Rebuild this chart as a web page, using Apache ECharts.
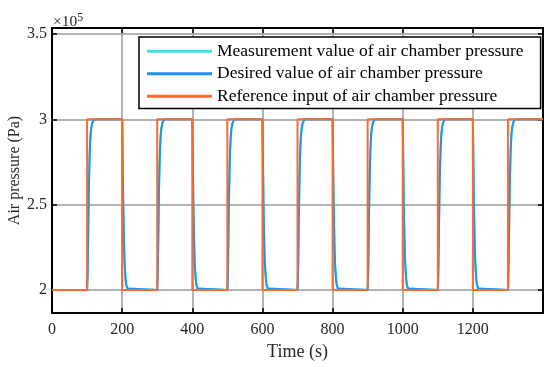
<!DOCTYPE html>
<html><head><meta charset="utf-8">
<script src="https://cdn.jsdelivr.net/npm/echarts@6/dist/echarts.min.js"></script>
<style>html,body{margin:0;padding:0;background:#fff}#c{width:550px;height:367px}</style>
</head><body><div id="c"></div>
<script>
// ---- data ----
var lowPa = 200000;            // low level of the square wave (Pa)
var highPa = 300000;           // high level (Pa)
var switchTimes = [100, 200, 300, 400, 500, 600, 700, 800, 900, 1000, 1100, 1200, 1300]; // s
var endTime = 1400;            // s
// response of the desired value: time after switch (s) and fraction of the step reached
var respOffsets = [0, 1, 2, 3, 4, 5, 6, 7, 8, 10, 12, 15, 20];
var riseFraction = [0, 0.05, 0.15, 0.3, 0.45, 0.58, 0.68, 0.76, 0.83, 0.91, 0.95, 0.98, 1];
var fallFraction = [0, 0.15, 0.32, 0.48, 0.6, 0.7, 0.78, 0.84, 0.88, 0.94, 0.97, 0.99, 1];
var yTicks = [200000, 250000, 300000, 350000];
var seriesNames = ['Measurement value of air chamber pressure', 'Desired value of air chamber pressure', 'Reference input of air chamber pressure'];

// build reference (square wave)
var refData = [[0, lowPa]];
var level = lowPa;
switchTimes.forEach(function (t) {
  refData.push([t, level]);
  level = (level === lowPa) ? highPa : lowPa;
  refData.push([t, level]);
});
refData.push([endTime, level]);

// build desired value from the read responses at each switch
var desData = [[0, lowPa]];
var prev = lowPa;
switchTimes.forEach(function (t) {
  var next = (prev === lowPa) ? highPa : lowPa;
  var frac = (next > prev) ? riseFraction : fallFraction;
  desData.push([t, prev]);
  for (var i = 1; i < respOffsets.length; i++) {
    desData.push([t + respOffsets[i], prev + (next - prev) * frac[i]]);
  }
  prev = next;
});
desData.push([endTime, prev]);
var measData = desData.map(function (p) { return [p[0], p[1]]; });

var font = 'Liberation Serif, Times New Roman, serif';
var chart = echarts.init(document.getElementById('c'));
var gridLine = { show: true, lineStyle: { color: '#9a9a9a', width: 1.5 } };
chart.setOption({
  animation: false,
  backgroundColor: '#fff',
  grid: { left: 52, right: 7, top: 28, bottom: 54, containLabel: false, outerBoundsMode: 'none',
    show: true, borderColor: '#000', borderWidth: 2, backgroundColor: '#fff' },
  legend: {
    orient: 'vertical', left: 139, top: 37,
    backgroundColor: '#fff', borderColor: '#000', borderWidth: 1.5,
    padding: [5, 17, 3, 8], itemGap: 4, itemWidth: 65, itemHeight: 3, icon: 'rect',
    textStyle: { fontFamily: font, fontSize: 17.5, color: '#000', lineHeight: 18.5 },
    data: seriesNames
  },
  xAxis: [{
    type: 'value', min: 0, max: endTime, interval: 200,
    name: 'Time (s)', nameLocation: 'middle', nameGap: 30, nameMoveOverlap: false,
    nameTextStyle: { fontFamily: font, fontSize: 18, color: '#262626' },
    axisLine: { show: true, onZero: false, lineStyle: { color: '#000', width: 2 } },
    axisTick: { show: true, inside: true, length: 5, lineStyle: { color: '#000', width: 1.5 } },
    axisLabel: { fontFamily: font, fontSize: 16, color: '#262626', margin: 9, showMaxLabel: false,
      formatter: function (v) { return v === endTime ? '' : String(v); } },
    splitLine: gridLine
  }, {
    type: 'value', min: 0, max: endTime, interval: 200, position: 'top',
    axisLine: { show: true, onZero: false, lineStyle: { color: '#000', width: 2 } },
    axisTick: { show: true, inside: true, length: 5, lineStyle: { color: '#000', width: 1.5 } },
    axisLabel: { show: false }, splitLine: { show: false }
  }],
  yAxis: [{
    type: 'value', min: 186600, max: 353500,
    name: 'Air pressure (Pa)', nameLocation: 'middle', nameGap: 29, nameRotate: 90, nameMoveOverlap: false,
    nameTextStyle: { fontFamily: font, fontSize: 16, color: '#262626' },
    axisLine: { show: true, onZero: false, lineStyle: { color: '#000', width: 2 } },
    axisTick: { show: true, inside: true, length: 5, customValues: yTicks, lineStyle: { color: '#000', width: 1.5 } },
    axisLabel: { fontFamily: font, fontSize: 16, color: '#262626', margin: 5, customValues: yTicks,
      formatter: function (v) { return String(Math.round(v / 1e4) / 10); } },
    splitLine: gridLine
  }, {
    type: 'value', min: 186600, max: 353500, position: 'right',
    axisLine: { show: true, onZero: false, lineStyle: { color: '#000', width: 2 } },
    axisTick: { show: true, inside: true, length: 5, customValues: yTicks, lineStyle: { color: '#000', width: 1.5 } },
    axisLabel: { show: false }, splitLine: { show: false }
  }],
  graphic: [{
    type: 'text', left: 53, top: 12,
    style: { text: '×10{s|5}', fontFamily: font, fontSize: 15.5, fill: '#262626',
      rich: { s: { fontFamily: font, fontSize: 12, verticalAlign: 'top', padding: [0, 0, 8, 0], fill: '#262626' } } }
  }],
  series: [{
    name: seriesNames[0], type: 'line', data: measData, showSymbol: false, symbol: 'none',
    lineStyle: { color: '#3fe3e6', width: 2 }, itemStyle: { color: '#3fe3e6' }
  }, {
    name: seriesNames[1], type: 'line', data: desData, showSymbol: false, symbol: 'none',
    lineStyle: { color: '#2193ee', width: 2 }, itemStyle: { color: '#2193ee' }
  }, {
    name: seriesNames[2], type: 'line', data: refData, showSymbol: false, symbol: 'none',
    lineStyle: { color: '#ff6a2c', width: 2 }, itemStyle: { color: '#ff6a2c' }
  }]
});
</script></body></html>
